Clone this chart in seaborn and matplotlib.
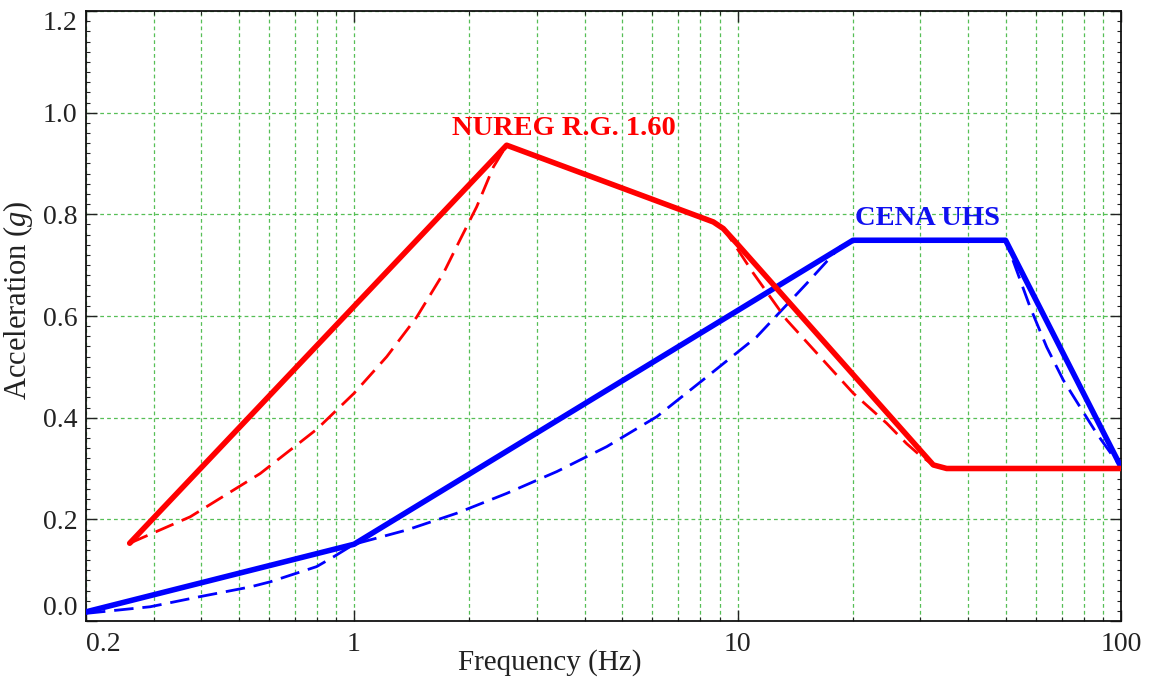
import matplotlib
matplotlib.use("Agg")
import matplotlib.pyplot as plt
import matplotlib.ticker as mticker
import numpy as np
import pandas as pd
import seaborn as sns

# ---------------- data ----------------
nureg_f = [0.26, 2.5, 8.65, 9.18, 9.95, 32.4, 35.1, 100]
nureg_a = [0.153, 0.936, 0.785, 0.772, 0.743, 0.307, 0.300, 0.300]

nureg_dash_f = [0.26, 0.374, 0.569, 0.799, 1.0, 1.217, 1.457, 1.71, 1.89, 2.089, 2.308, 2.5,
                8.65, 9.18, 9.85, 11.0, 13.44, 16.41, 20.04, 24.49, 27.6, 29.9, 32.4, 35.1, 100]
nureg_dash_a = [0.153, 0.205, 0.290, 0.377, 0.448, 0.520, 0.598, 0.684, 0.750, 0.815, 0.893, 0.936,
                0.785, 0.772, 0.739, 0.684, 0.592, 0.520, 0.448, 0.389, 0.349, 0.326, 0.307, 0.300, 0.300]

cena_f = [0.2, 1.0, 20, 50, 100]
cena_a = [0.018, 0.151, 0.749, 0.749, 0.303]

cena_dash_f = [0.2, 0.294, 0.397, 0.536, 0.604, 0.799, 0.883, 1.0, 1.372, 1.853, 2.5, 3.38, 4.56,
               6.16, 8.31, 11.22, 15.15, 18.5, 20, 50, 51.9, 57.9, 64.0, 70.7, 78.2, 86.4, 95.5, 100]
cena_dash_a = [0.015, 0.028, 0.048, 0.067, 0.077, 0.107, 0.126, 0.151, 0.179, 0.212, 0.251, 0.294, 0.343,
               0.402, 0.480, 0.559, 0.664, 0.736, 0.749, 0.749, 0.716, 0.618, 0.539, 0.474, 0.421, 0.369, 0.323, 0.303]

x_ticks = [0.2, 1, 10, 100]
x_tick_labels = ["0.2", "1", "10", "100"]
y_ticks = [0.0, 0.2, 0.4, 0.6, 0.8, 1.0, 1.2]
y_tick_labels = ["0.0", "0.2", "0.4", "0.6", "0.8", "1.0", "1.2"]

label_nureg = "NUREG R.G. 1.60"
label_cena = "CENA UHS"

# ---------------- style ----------------
sns.set_style("ticks")
plt.rcParams['font.family'] = ['Liberation Serif', 'DejaVu Serif']
plt.rcParams['mathtext.fontset'] = 'custom'
plt.rcParams['mathtext.rm'] = 'Liberation Serif'
plt.rcParams['mathtext.it'] = 'Liberation Serif:italic'

fig = plt.figure(figsize=(11.5, 6.77), dpi=100)
ax = fig.add_axes([86 / 1150, 1 - 621 / 677, (1121 - 86) / 1150, (621 - 11) / 677])

RED = "#ff0000"
BLUE = "#0000ff"
dash = (0, (7, 3.2))

df_nd = pd.DataFrame({"f": nureg_dash_f, "a": nureg_dash_a})
df_cd = pd.DataFrame({"f": cena_dash_f, "a": cena_dash_a})
df_n = pd.DataFrame({"f": nureg_f, "a": nureg_a})
df_c = pd.DataFrame({"f": cena_f, "a": cena_a})

sns.lineplot(data=df_cd, x="f", y="a", ax=ax, color=BLUE, lw=2.0, linestyle=dash, sort=False,
             estimator=None, zorder=3)
sns.lineplot(data=df_nd, x="f", y="a", ax=ax, color=RED, lw=2.0, linestyle=dash, sort=False,
             estimator=None, zorder=3)
sns.lineplot(data=df_c, x="f", y="a", ax=ax, color=BLUE, lw=4.0, sort=False, estimator=None, zorder=4)
sns.lineplot(data=df_n, x="f", y="a", ax=ax, color=RED, lw=4.0, sort=False, estimator=None, zorder=5)

ax.set_xscale("log")
ax.set_xlim(0.2, 100)
ax.set_ylim(0, 1.2)

ax.xaxis.set_major_locator(mticker.FixedLocator(x_ticks))
ax.xaxis.set_major_formatter(mticker.FixedFormatter(x_tick_labels))
ax.xaxis.set_minor_locator(mticker.LogLocator(base=10, subs=np.arange(2, 10) / 1.0, numticks=20))
ax.xaxis.set_minor_formatter(mticker.NullFormatter())
ax.yaxis.set_major_locator(mticker.FixedLocator(y_ticks))
ax.yaxis.set_major_formatter(mticker.FixedFormatter(y_tick_labels))
ax.yaxis.set_minor_locator(mticker.MultipleLocator(0.02))

ax.tick_params(which="both", direction="in", top=True, right=True, colors="#222222",
               labelsize=20, width=1.0)
ax.tick_params(which="major", length=8, pad=8)
ax.tick_params(which="minor", length=3, width=0.8)
ax.tick_params(axis="y", which="major", pad=6)

grid_kw = dict(color="#44b844", lw=0.9, linestyle=(0, (3, 2.5)), alpha=0.9)
ax.grid(True, which="major", axis="y", **grid_kw)
ax.grid(True, which="both", axis="x", **grid_kw)
ax.set_axisbelow(True)

for s in ax.spines.values():
    s.set_color("#111111")
    s.set_linewidth(1.3)

fig.canvas.draw()
ylabels = ax.get_yticklabels()
ylabels[0].set_va("bottom")
ylabels[-1].set_va("top")
xlabels = ax.get_xticklabels()
xlabels[0].set_ha("left")

ax.set_xlabel("Frequency (Hz)", fontsize=21, color="#222222", labelpad=-6)
ax.set_ylabel(r"Acceleration ($\mathit{g}$)", fontsize=22, color="#222222", labelpad=6)
ax.xaxis.label.set_x((550 - 86) / 1035)
ax.yaxis.label.set_y((621 - 300) / 610)

ax.text(1.80, 0.956, label_nureg, color=RED, fontsize=20.5, fontweight="bold", ha="left", va="baseline")
ax.text(20.25, 0.779, label_cena, color="#1010f0", fontsize=20.5, fontweight="bold", ha="left", va="baseline")

fig.savefig("out.png", dpi=100)
